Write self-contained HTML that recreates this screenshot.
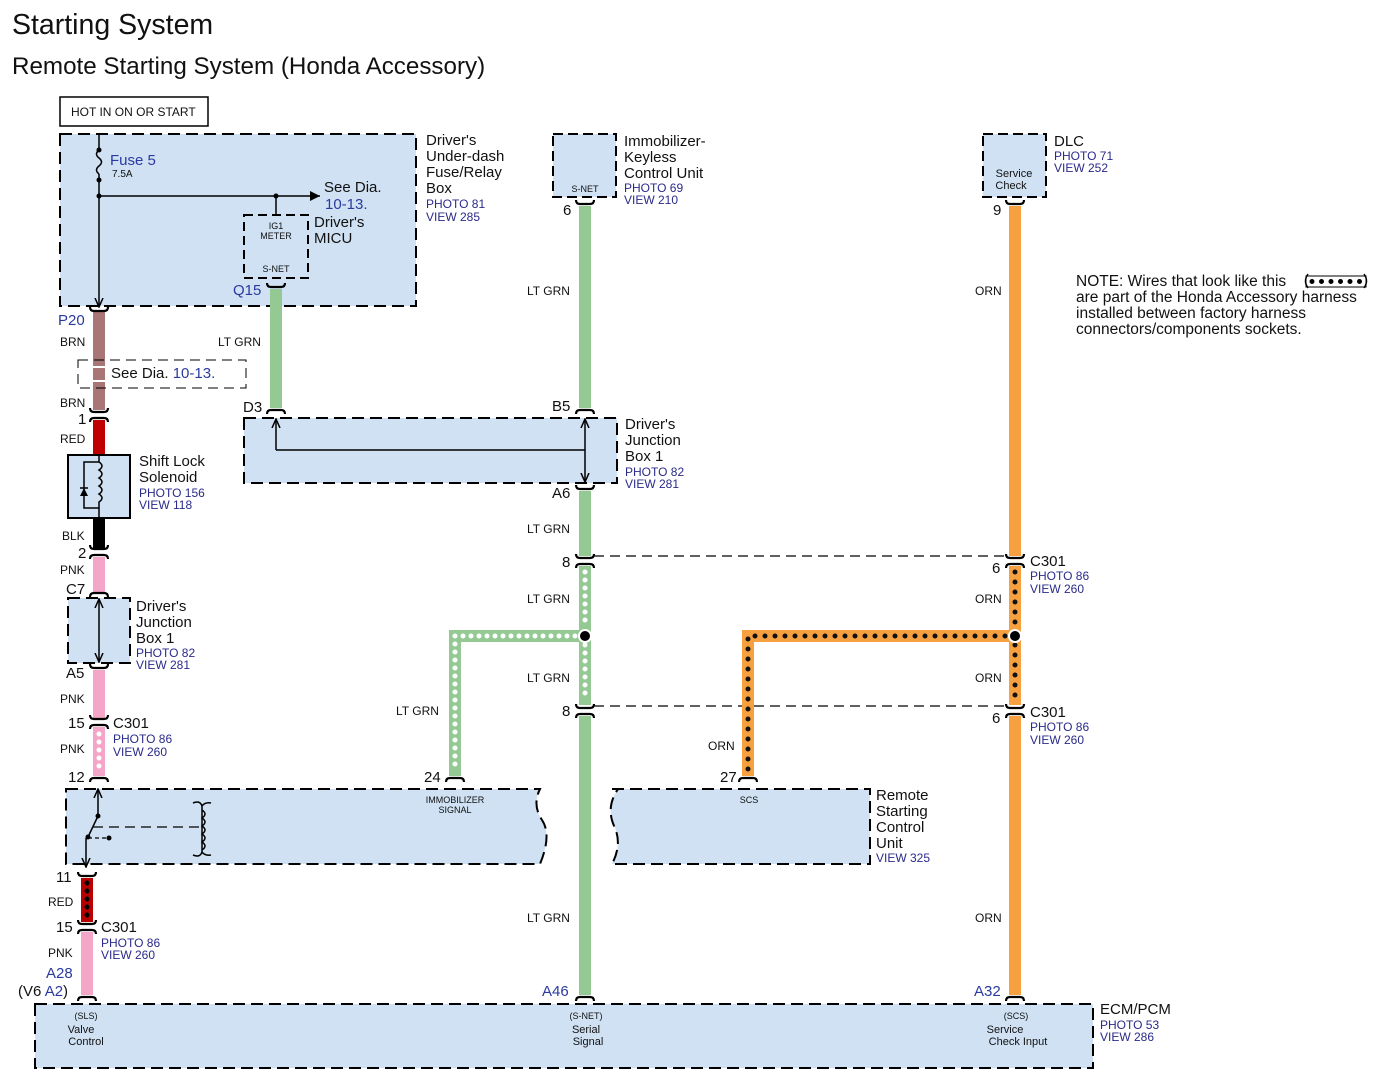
<!DOCTYPE html>
<html><head><meta charset="utf-8"><style>
html,body{margin:0;padding:0;background:#fff;}
svg{display:block;font-family:"Liberation Sans",Arial,sans-serif;}
.bx{fill:#cfe1f3;stroke:#000;stroke-width:2;stroke-dasharray:12 6;}
.t{font-size:15px;fill:#111;}
.s{font-size:12px;fill:#111;}
.xs{font-size:9px;fill:#111;}
.b{font-size:12px;fill:#2a2a8a;}
.bl{font-size:15px;fill:#2a3aa0;}
.ln{stroke:#000;stroke-width:1.5;fill:none;}
.cn{stroke:#000;stroke-width:2.2;fill:none;}
</style></head><body>
<svg width="1382" height="1087" viewBox="0 0 1382 1087" xmlns="http://www.w3.org/2000/svg">
<defs>
<marker id="ar" markerWidth="10" markerHeight="10" refX="8" refY="5" orient="auto-start-reverse" markerUnits="userSpaceOnUse"><path d="M0,1 L9,5 L0,9" fill="none" stroke="#000" stroke-width="1.5"/></marker>
<marker id="af" markerWidth="12" markerHeight="12" refX="10" refY="5" orient="auto" markerUnits="userSpaceOnUse"><path d="M0,0 L10,5 L0,10z" fill="#000"/></marker>
<g id="cc"><path class="cn" d="M-9,-7 Q-9,-3 -5,-3 L5,-3 Q9,-3 9,-7"/><path class="cn" d="M-9,7 Q-9,3 -5,3 L5,3 Q9,3 9,7"/></g>
<g id="cup"><path class="cn" d="M-9,-3 Q-9,1 -5,1 L5,1 Q9,1 9,-3"/></g>
<g id="cap"><path class="cn" d="M-9,3 Q-9,-1 -5,-1 L5,-1 Q9,-1 9,3"/></g>
</defs>

<text x="12" y="34" style="font-size:28.5px" fill="#111">Starting System</text>
<text x="12" y="74" style="font-size:24.2px" fill="#111">Remote Starting System (Honda Accessory)</text>

<rect x="60" y="97" width="148" height="29" fill="#fff" stroke="#000" stroke-width="1.5"/>
<text x="71" y="116" class="s">HOT IN ON OR START</text>

<rect class="bx" x="60" y="134" width="356" height="172"/>
<line class="ln" x1="99" y1="134" x2="99" y2="150"/>
<path class="ln" d="M99,150 q-5,4 0,8 q5,4 0,8 q-5,4 0,8"/>
<circle cx="99" cy="150" r="2.5"/><circle cx="99" cy="180" r="2.5"/>
<line class="ln" x1="99" y1="174" x2="99" y2="306" marker-end="url(#ar)"/>
<circle cx="99" cy="196" r="2.5"/>
<line class="ln" x1="99" y1="196" x2="320" y2="196" marker-end="url(#af)"/>
<circle cx="276" cy="196" r="2.5"/>
<line class="ln" x1="276" y1="196" x2="276" y2="215"/>
<text x="110" y="165" class="bl">Fuse 5</text>
<text x="112" y="177" class="xs" style="font-size:10px">7.5A</text>
<text x="324" y="192" class="t">See Dia.</text>
<text x="325" y="209" class="bl">10-13.</text>
<rect class="bx" x="244" y="215" width="64" height="63" style="stroke-dasharray:9 5"/>
<text x="276" y="229" class="xs" text-anchor="middle">IG1</text>
<text x="276" y="239" class="xs" text-anchor="middle">METER</text>
<text x="276" y="272" class="xs" text-anchor="middle">S-NET</text>
<text x="314" y="227" class="t">Driver's</text>
<text x="314" y="243" class="t">MICU</text>
<text x="426" y="145" class="t">Driver's</text>
<text x="426" y="161" class="t">Under-dash</text>
<text x="426" y="177" class="t">Fuse/Relay</text>
<text x="426" y="193" class="t">Box</text>
<text x="426" y="208" class="b">PHOTO 81</text>
<text x="426" y="221" class="b">VIEW 285</text>
<text x="233" y="295" class="bl">Q15</text>
<text x="58" y="325" class="bl">P20</text>

<line x1="99" y1="312" x2="99" y2="410" stroke="#a87676" stroke-width="12"/>
<rect x="78" y="360" width="168" height="28" fill="none" stroke="#000" stroke-width="1" stroke-dasharray="10 6"/>
<line x1="92" y1="367" x2="106" y2="367" stroke="#fff" stroke-width="2"/>
<line x1="92" y1="381" x2="106" y2="381" stroke="#fff" stroke-width="2"/>
<text x="111" y="378" class="t">See Dia. <tspan fill="#2a3aa0">10-13.</tspan></text>
<text x="60" y="346" class="s">BRN</text>
<text x="60" y="407" class="s">BRN</text>
<use href="#cup" x="99" y="310"/>
<use href="#cc" x="99" y="415"/>
<text x="78" y="424" class="t">1</text>
<line x1="99" y1="420" x2="99" y2="455" stroke="#c00000" stroke-width="12"/>
<text x="60" y="443" class="s">RED</text>
<rect x="68" y="455" width="62" height="63" fill="#cfe1f3" stroke="#000" stroke-width="2"/>
<path class="ln" d="M99,455 V462 H84 V508 H99 V518"/>
<path class="ln" d="M99,462 q6,4 0,8 q6,4 0,8 q6,4 0,8 q6,4 0,8 q6,4 0,8 V508"/>
<path d="M80,496 L88,496 L84,488z" fill="#000"/><line class="ln" x1="80" y1="488" x2="88" y2="488"/>
<text x="139" y="466" class="t">Shift Lock</text>
<text x="139" y="482" class="t">Solenoid</text>
<text x="139" y="497" class="b">PHOTO 156</text>
<text x="139" y="509" class="b">VIEW 118</text>
<line x1="99" y1="518" x2="99" y2="548" stroke="#000" stroke-width="12"/>
<text x="62" y="540" class="s">BLK</text>
<use href="#cc" x="99" y="552"/>
<text x="78" y="558" class="t">2</text>
<line x1="99" y1="557" x2="99" y2="592" stroke="#f4a6c8" stroke-width="12"/>
<text x="60" y="574" class="s">PNK</text>
<text x="66" y="594" class="t">C7</text>
<use href="#cap" x="99" y="594"/>
<rect class="bx" x="68" y="598" width="62" height="65"/>
<line class="ln" x1="99" y1="600" x2="99" y2="661" marker-start="url(#ar)" marker-end="url(#ar)"/>
<text x="136" y="611" class="t">Driver's</text>
<text x="136" y="627" class="t">Junction</text>
<text x="136" y="643" class="t">Box 1</text>
<text x="136" y="657" class="b">PHOTO 82</text>
<text x="136" y="669" class="b">VIEW 281</text>
<use href="#cup" x="99" y="667"/>
<text x="66" y="678" class="t">A5</text>
<line x1="99" y1="670" x2="99" y2="718" stroke="#f4a6c8" stroke-width="12"/>
<text x="60" y="703" class="s">PNK</text>
<use href="#cc" x="99" y="722"/>
<text x="68" y="728" class="t">15</text>
<text x="113" y="728" class="t">C301</text>
<text x="113" y="743" class="b">PHOTO 86</text>
<text x="113" y="756" class="b">VIEW 260</text>
<line x1="99" y1="727" x2="99" y2="776" stroke="#f4a6c8" stroke-width="12"/>
<line x1="99" y1="734" x2="99" y2="772" stroke="#fff" stroke-width="5" stroke-linecap="round" stroke-dasharray="0 8"/>
<text x="60" y="753" class="s">PNK</text>
<use href="#cap" x="99" y="779"/>
<text x="68" y="782" class="t">12</text>

<path d="M66,789 H540 Q532,805 542,820 Q552,835 540,864 H66 Z" class="bx"/>
<path d="M612,789 H870 V864 H612 Q622,845 615,828 Q605,808 618,789 Z" class="bx"/>
<line class="ln" x1="98" y1="790" x2="98" y2="816" marker-start="url(#ar)"/>
<circle cx="98" cy="816" r="2.5"/>
<line class="ln" x1="98" y1="816" x2="88" y2="837"/>
<circle cx="88" cy="837" r="2.5"/><circle cx="109" cy="838" r="2.5"/>
<line x1="88" y1="838" x2="108" y2="838" stroke="#000" stroke-width="1.2" stroke-dasharray="4 3"/>
<line x1="93" y1="827" x2="200" y2="827" stroke="#000" stroke-width="1.2" stroke-dasharray="10 6"/>
<path class="ln" d="M193,803 q7,-3 9,3 V852 q-2,6 -9,3 M202,810 q6,4 0,8 q6,4 0,8 q6,4 0,8 q6,4 0,8 q6,4 0,8 M202,852 q3,4 9,3 M202,806 q3,-4 9,-3"/>
<line class="ln" x1="86" y1="838" x2="86" y2="866" marker-end="url(#ar)"/>
<text x="455" y="803" class="xs" text-anchor="middle">IMMOBILIZER</text>
<text x="455" y="813" class="xs" text-anchor="middle">SIGNAL</text>
<text x="749" y="803" class="xs" text-anchor="middle">SCS</text>
<text x="876" y="800" class="t">Remote</text>
<text x="876" y="816" class="t">Starting</text>
<text x="876" y="832" class="t">Control</text>
<text x="876" y="848" class="t">Unit</text>
<text x="876" y="862" class="b">VIEW 325</text>

<text x="56" y="882" class="t">11</text>
<use href="#cup" x="87" y="875"/>
<line x1="87" y1="878" x2="87" y2="922" stroke="#b80000" stroke-width="12"/>
<line x1="87" y1="883" x2="87" y2="918" stroke="#000" stroke-width="5" stroke-linecap="round" stroke-dasharray="0 8"/>
<text x="48" y="906" class="s">RED</text>
<use href="#cc" x="87" y="927"/>
<text x="56" y="932" class="t">15</text>
<text x="101" y="932" class="t">C301</text>
<text x="101" y="947" class="b">PHOTO 86</text>
<text x="101" y="959" class="b">VIEW 260</text>
<line x1="87" y1="932" x2="87" y2="995" stroke="#f4a6c8" stroke-width="12"/>
<text x="48" y="957" class="s">PNK</text>
<text x="46" y="978" class="bl">A28</text>
<text x="18" y="996" class="t">(V6 <tspan fill="#2a3aa0">A2</tspan>)</text>
<use href="#cap" x="87" y="998"/>

<use href="#cup" x="276" y="286"/>
<line x1="276" y1="289" x2="276" y2="408" stroke="#94c994" stroke-width="12"/>
<text x="218" y="346" class="s">LT GRN</text>
<text x="243" y="412" class="t">D3</text>
<use href="#cap" x="276" y="411"/>

<rect class="bx" x="244" y="418" width="373" height="65"/>
<line class="ln" x1="276" y1="450" x2="276" y2="420" marker-end="url(#ar)"/>
<line class="ln" x1="276" y1="450" x2="585" y2="450"/>
<line class="ln" x1="585" y1="420" x2="585" y2="481" marker-start="url(#ar)" marker-end="url(#ar)"/>
<text x="625" y="429" class="t">Driver's</text>
<text x="625" y="445" class="t">Junction</text>
<text x="625" y="461" class="t">Box 1</text>
<text x="625" y="476" class="b">PHOTO 82</text>
<text x="625" y="488" class="b">VIEW 281</text>

<rect class="bx" x="553" y="134" width="63" height="63" style="stroke-dasharray:10 5"/>
<text x="585" y="192" class="xs" text-anchor="middle">S-NET</text>
<text x="624" y="146" class="t">Immobilizer-</text>
<text x="624" y="162" class="t">Keyless</text>
<text x="624" y="178" class="t">Control Unit</text>
<text x="624" y="192" class="b">PHOTO 69</text>
<text x="624" y="204" class="b">VIEW 210</text>
<use href="#cup" x="585" y="203"/>
<text x="563" y="215" class="t">6</text>
<line x1="585" y1="206" x2="585" y2="408" stroke="#94c994" stroke-width="12"/>
<text x="527" y="295" class="s">LT GRN</text>
<text x="552" y="411" class="t">B5</text>
<use href="#cap" x="585" y="411"/>
<use href="#cup" x="585" y="488"/>
<text x="552" y="498" class="t">A6</text>
<line x1="585" y1="491" x2="585" y2="556" stroke="#94c994" stroke-width="12"/>
<text x="527" y="533" class="s">LT GRN</text>
<use href="#cc" x="585" y="561"/>
<text x="562" y="567" class="t">8</text>
<line x1="594" y1="556" x2="1006" y2="556" stroke="#000" stroke-width="1.2" stroke-dasharray="10 6"/>
<line x1="594" y1="706" x2="1006" y2="706" stroke="#000" stroke-width="1.2" stroke-dasharray="10 6"/>
<line x1="585" y1="566" x2="585" y2="705" stroke="#94c994" stroke-width="12"/>
<path d="M585,636 H455 V776" stroke="#94c994" stroke-width="12" fill="none"/>
<line x1="585" y1="572" x2="585" y2="628" stroke="#fff" stroke-width="5" stroke-linecap="round" stroke-dasharray="0 8"/>
<line x1="585" y1="645" x2="585" y2="700" stroke="#fff" stroke-width="5" stroke-linecap="round" stroke-dasharray="0 8"/>
<path d="M575,636 H455 V772" stroke="#fff" stroke-width="5" fill="none" stroke-linecap="round" stroke-dasharray="0 8"/>
<circle cx="585" cy="636" r="7" fill="#fff"/><circle cx="585" cy="636" r="5" fill="#000"/>
<text x="527" y="603" class="s">LT GRN</text>
<text x="527" y="682" class="s">LT GRN</text>
<text x="396" y="715" class="s">LT GRN</text>
<use href="#cap" x="455" y="779"/>
<text x="424" y="782" class="t">24</text>
<use href="#cc" x="585" y="711"/>
<text x="562" y="716" class="t">8</text>
<line x1="585" y1="716" x2="585" y2="995" stroke="#94c994" stroke-width="12"/>
<text x="527" y="922" class="s">LT GRN</text>
<text x="542" y="996" class="bl">A46</text>
<use href="#cap" x="585" y="998"/>

<rect class="bx" x="983" y="134" width="63" height="63" style="stroke-dasharray:10 5"/>
<text x="1014" y="177" class="s" text-anchor="middle" style="font-size:11px">Service</text>
<text x="1011" y="189" class="s" text-anchor="middle" style="font-size:11px">Check</text>
<text x="1054" y="146" class="t">DLC</text>
<text x="1054" y="160" class="b">PHOTO 71</text>
<text x="1054" y="172" class="b">VIEW 252</text>
<use href="#cup" x="1015" y="203"/>
<text x="993" y="215" class="t">9</text>
<line x1="1015" y1="206" x2="1015" y2="556" stroke="#f7a040" stroke-width="12"/>
<text x="975" y="295" class="s">ORN</text>
<use href="#cc" x="1015" y="561"/>
<text x="992" y="573" class="t">6</text>
<text x="1030" y="566" class="t">C301</text>
<text x="1030" y="580" class="b">PHOTO 86</text>
<text x="1030" y="593" class="b">VIEW 260</text>
<line x1="1015" y1="566" x2="1015" y2="705" stroke="#f7a040" stroke-width="12"/>
<path d="M1015,636 H748 V776" stroke="#f7a040" stroke-width="12" fill="none"/>
<line x1="1015" y1="572" x2="1015" y2="628" stroke="#111" stroke-width="5" stroke-linecap="round" stroke-dasharray="0 10"/>
<line x1="1015" y1="645" x2="1015" y2="700" stroke="#111" stroke-width="5" stroke-linecap="round" stroke-dasharray="0 10"/>
<path d="M1005,636 H748 V772" stroke="#111" stroke-width="5" fill="none" stroke-linecap="round" stroke-dasharray="0 10"/>
<circle cx="1015" cy="636" r="7" fill="#fff"/><circle cx="1015" cy="636" r="5" fill="#000"/>
<text x="975" y="603" class="s">ORN</text>
<text x="975" y="682" class="s">ORN</text>
<text x="708" y="750" class="s">ORN</text>
<use href="#cap" x="748" y="779"/>
<text x="720" y="782" class="t">27</text>
<use href="#cc" x="1015" y="711"/>
<text x="992" y="723" class="t">6</text>
<text x="1030" y="717" class="t">C301</text>
<text x="1030" y="731" class="b">PHOTO 86</text>
<text x="1030" y="744" class="b">VIEW 260</text>
<line x1="1015" y1="716" x2="1015" y2="995" stroke="#f7a040" stroke-width="12"/>
<text x="975" y="922" class="s">ORN</text>
<text x="974" y="996" class="bl">A32</text>
<use href="#cap" x="1015" y="998"/>

<text x="1076" y="286" class="t" style="font-size:15.5px">NOTE: Wires that look like this</text>
<text x="1076" y="302" class="t" style="font-size:15.5px">are part of the Honda Accessory harness</text>
<text x="1076" y="318" class="t" style="font-size:15.5px">installed between factory harness</text>
<text x="1076" y="334" class="t" style="font-size:15.5px">connectors/components sockets.</text>
<rect x="1306" y="276" width="60" height="11" fill="#fff" stroke="#000" stroke-width="1"/>
<path class="ln" d="M1308,274 q-5,7 0,14 M1364,274 q5,7 0,14"/>
<line x1="1312" y1="281.5" x2="1362" y2="281.5" stroke="#000" stroke-width="5" stroke-linecap="round" stroke-dasharray="0 9.5"/>

<rect class="bx" x="35" y="1004" width="1058" height="64"/>
<text x="86" y="1019" class="xs" text-anchor="middle">(SLS)</text>
<text x="81" y="1033" class="s" text-anchor="middle" style="font-size:11px">Valve</text>
<text x="86" y="1045" class="s" text-anchor="middle" style="font-size:11px">Control</text>
<text x="586" y="1019" class="xs" text-anchor="middle">(S-NET)</text>
<text x="586" y="1033" class="s" text-anchor="middle" style="font-size:11px">Serial</text>
<text x="588" y="1045" class="s" text-anchor="middle" style="font-size:11px">Signal</text>
<text x="1016" y="1019" class="xs" text-anchor="middle">(SCS)</text>
<text x="1005" y="1033" class="s" text-anchor="middle" style="font-size:11px">Service</text>
<text x="1018" y="1045" class="s" text-anchor="middle" style="font-size:11px">Check Input</text>
<text x="1100" y="1014" class="t">ECM/PCM</text>
<text x="1100" y="1029" class="b">PHOTO 53</text>
<text x="1100" y="1041" class="b">VIEW 286</text>
</svg>
</body></html>
